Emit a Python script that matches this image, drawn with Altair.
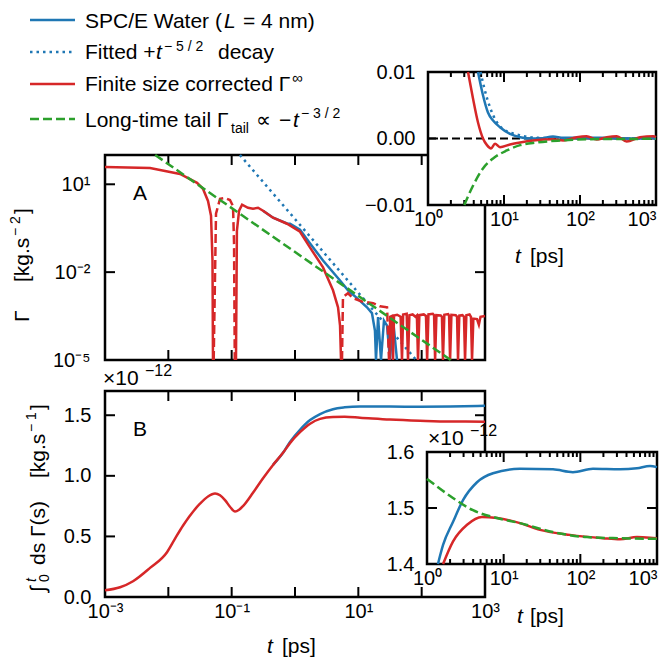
import math
import altair as alt
import pandas as pd

# ======================= DATA (t in ps) =======================
# Panel A : |Gamma(t)| [kg.s^-2], log-log
A_blue_t = [0.313, 0.45, 0.748, 0.834, 1.2, 1.73, 2.77, 5.14, 6.87, 9.53, 13.7, 16.4,
            18.3, 19.0, 20.5, 22.8, 25.4, 28.4, 31.6, 35.3, 40.8]
A_blue_v = [1.25, 0.72, 0.46, 0.45, 0.28, 0.095, 0.025, 5.2e-3, 2.4e-3, 1.3e-3, 6.3e-4, 4.0e-4,
            1.0e-4, 1e-5, 2.9e-4, 1e-5, 2.2e-4, 1.5e-4, 1e-5, 2.5e-4, 1e-5]
A_fit_t = [0.135, 82.0]
A_fit_v = [100.0, 1e-5]
A_tail_t = [0.0062, 287.0]
A_tail_v = [100.0, 1e-5]
# red, positive parts (solid)
A_red_pos = [
    ([0.001, 0.00514, 0.0153, 0.0284, 0.0352, 0.0423, 0.0472, 0.0498, 0.0507],
     [39, 36, 22.6, 11.2, 7.0, 2.7, 0.85, 0.025, 1e-5]),
    ([0.117, 0.121, 0.131, 0.146, 0.181, 0.217, 0.261, 0.313, 0.45, 0.748, 1.2, 1.73, 2.77,
      3.98, 4.78, 5.14, 5.33],
     [1e-5, 0.26, 1.26, 2.0, 1.58, 1.46, 1.58, 1.25, 0.72, 0.45, 0.24, 0.069, 0.0145,
      0.0024, 6.3e-4, 1.5e-4, 1e-5]),
    ([31.0, 31.8, 34.0, 35.3, 36.6, 41, 46.5, 48.9, 51, 58, 60.9, 64, 72, 80, 84, 87.6, 92,
      108, 117, 122, 128, 150, 157, 163, 171, 200, 209, 217, 228, 262, 271, 281, 295, 345,
      362, 375, 393, 440, 466, 484, 508, 570, 600, 624, 655, 748, 800, 850, 1000],
     [1e-5, 3.0e-4, 3.2e-4, 1e-5, 3.3e-4, 3.5e-4, 3.0e-4, 1e-5, 3.6e-4, 3.8e-4, 1e-5, 3.4e-4,
      3.6e-4, 3.0e-4, 3.3e-4, 1e-5, 3.4e-4, 3.6e-4, 3.2e-4, 1e-5, 3.6e-4, 3.8e-4, 3.4e-4,
      1e-5, 3.4e-4, 3.3e-4, 3.0e-4, 1e-5, 3.5e-4, 3.7e-4, 3.2e-4, 1e-5, 3.5e-4, 3.4e-4,
      3.0e-4, 1e-5, 3.3e-4, 3.4e-4, 3.0e-4, 1e-5, 3.4e-4, 3.6e-4, 3.0e-4, 1e-5, 2.6e-4,
      2.5e-4, 1.6e-4, 3.0e-4, 3.2e-4]),
]
# red, negative parts (dashed, absolute value)
A_red_neg = [
    ([0.052, 0.0566, 0.0655, 0.0785, 0.094, 0.105, 0.109, 0.112],
     [1e-5, 1.0, 3.2, 3.4, 2.9, 1.8, 0.1, 1e-5]),
    ([5.52, 5.72, 6.87, 8.24, 11.4, 17.1, 22.0, 28.4, 30.5],
     [1e-5, 1.4e-3, 1.9e-3, 1.3e-3, 1.0e-3, 8.7e-4, 6.8e-4, 6.3e-4, 1e-5]),
]

# Panel B : integral of Gamma [1e-12 kg.s^-1]
B_red_t = [0.001, 0.00173, 0.00277, 0.00514, 0.00953, 0.0127, 0.0171, 0.0316, 0.0423, 0.0546,
           0.0655, 0.0785, 0.094, 0.113, 0.131, 0.151, 0.217, 0.313, 0.45, 0.647, 0.834, 1.2,
           1.73, 2.49, 3.98, 6.1, 10.6, 31.6, 94, 281, 1000]
B_red_v = [0.055, 0.08, 0.13, 0.24, 0.37, 0.48, 0.59, 0.77, 0.83, 0.855, 0.84, 0.80, 0.745,
           0.705, 0.72, 0.75, 0.86, 0.98, 1.09, 1.19, 1.27, 1.36, 1.43, 1.47, 1.485, 1.487,
           1.48, 1.465, 1.455, 1.448, 1.447]
B_blue_t = [0.45, 0.647, 0.834, 1.2, 1.73, 2.49, 3.98, 6.1, 10.6, 31.6, 94, 281, 1000]
B_blue_v = [1.09, 1.19, 1.28, 1.38, 1.46, 1.51, 1.55, 1.565, 1.572, 1.572, 1.57, 1.572, 1.578]

# Inset A : Gamma(t), linear y
IA_red_t = [3.36, 3.91, 4.55, 5.29, 5.97, 6.75, 7.61, 8.85, 12.0, 16.3, 24.1, 44.1, 60.3,
            90.5, 122, 166, 225, 304, 411, 615, 921, 1000]
IA_red_v = [0.01, 0.006, 0.0024, 0.0, -0.001, -0.0015, -0.0008, -0.0013, -0.0009, -0.0006,
            -0.0003, -0.0001, -0.0003, 0.0002, 0.00035, -0.00015, 0.0002, 0.00035, -0.00045,
            0.0002, 0.00035, 0.0002]
IA_blue_t = [4.55, 5.29, 6.15, 7.18, 8.85, 12.0, 16.3, 22.0, 29.8, 44.1, 60.3, 90.5, 183,
             615, 1000]
IA_blue_v = [0.01, 0.0065, 0.0039, 0.0027, 0.0017, 0.0007, 0.0002, 0.0, 0.0, 0.0003, 0.0001,
             0.0001, 0.0001, 0.0, 0.0001]
IA_fit_t = [4.9, 6.0, 7.2, 9.5, 16.0, 28.0, 100.0, 1000.0]
IA_fit_v = [0.01, 0.006, 0.0035, 0.0015, 0.0005, 0.0001, 0.0, 0.0]
IA_tail_t = [3.0, 3.91, 5.29, 7.18, 10.9, 16.3, 27.0, 54.5, 123, 1000]
IA_tail_v = [-0.01, -0.0071, -0.0045, -0.003, -0.0018, -0.001, -0.0006, -0.0003, -0.0001,
             -0.00005]
IA_zero_t = [1.0, 1000.0]
IA_zero_v = [0.0, 0.0]

# Inset B : integral, zoom
IB_blue_t = [1.39, 1.62, 2.18, 2.95, 4.49, 7.26, 16.3, 44.0, 80.0, 146, 329, 548, 811, 1000]
IB_blue_v = [1.40, 1.434, 1.475, 1.514, 1.546, 1.562, 1.570, 1.569, 1.564, 1.570, 1.569,
             1.571, 1.575, 1.573]
IB_red_t = [1.62, 2.18, 3.33, 5.21, 8.18, 16.3, 29.8, 73.3, 198, 329, 548, 811, 1000]
IB_red_v = [1.40, 1.44, 1.47, 1.484, 1.482, 1.473, 1.461, 1.452, 1.446, 1.444, 1.448, 1.447,
            1.446]
IB_tail_t = [1.0, 2.18, 3.98, 8.18, 16.3, 44.0, 122, 329, 1000]
IB_tail_v = [1.552, 1.518, 1.496, 1.482, 1.473, 1.457, 1.448, 1.446, 1.445]

# axis domains and tick values
DOM_T = [1e-3, 1e3]
DOM_TI = [1.0, 1e3]
DOM_GA = [1e-5, 1e2]
DOM_GB = [0.0, 1.7]
DOM_GIA = [-0.01, 0.01]
DOM_GIB = [1.4, 1.6]
DECADES = [1e-3, 1e-2, 1e-1, 1.0, 10.0, 100.0, 1000.0]
DEC_I = [1.0, 10.0, 100.0, 1000.0]
MINOR_I = [m * d for d in (1, 10, 100) for m in range(2, 10)]
YT_A = [1e-5, 1e-2, 10.0]
YT_B = [0.0, 0.5, 1.0, 1.5]
YT_IA = [-0.01, 0.0, 0.01]
YT_IB = [1.4, 1.5, 1.6]

# ======================= STYLE / LAYOUT =======================
W, H, M = 654, 650, 8
FONT = "Liberation Sans"
BLUE, RED, GREEN = "#1f77b4", "#d62728", "#2ca02c"
LW = 2.5
DASH = [9, 4]
DOT = [2.5, 4]
FS = 21
MAJ, MIN = 10, 5


def P(v):
    return v - M


# frames in page pixels: left, top, right, bottom
FR_A = (105, 155, 485, 360)
FR_B = (105, 391, 485, 597)
FR_IA = (428, 72, 656, 205)
FR_IB = (427, 452, 657, 564)


def xscale(dom, fr):
    return alt.Scale(type="log", domain=dom, range=[P(fr[0]), P(fr[2])], nice=False)


def yscale(dom, fr, log=False):
    if log:
        return alt.Scale(type="log", domain=dom, range=[P(fr[3]), P(fr[1])], nice=False)
    return alt.Scale(type="linear", domain=dom, range=[P(fr[3]), P(fr[1])], nice=False, zero=False)


def inv_x(fr, dom, px):
    a, b = math.log10(dom[0]), math.log10(dom[1])
    return 10 ** (a + (px - fr[0]) / (fr[2] - fr[0]) * (b - a))


def inv_y(fr, dom, py, log):
    f = (fr[3] - py) / (fr[3] - fr[1])
    if log:
        a, b = math.log10(dom[0]), math.log10(dom[1])
        return 10 ** (a + f * (b - a))
    return dom[0] + f * (dom[1] - dom[0])


def sup_expr(mapping):
    e = "round(log(datum.value)/LN10)"
    s = "''"
    for k, lab in mapping.items():
        s = f"({e} == {k}) ? '{lab}' : " + s
    return s


def label_axis(orient, fr, values, z=0, expr=None, fmt=None, pad=4, flush_last=False):
    L, T, R, B = [P(c) for c in fr]
    off = (B - H) if orient == "bottom" else -L
    kw = dict(orient=orient, offset=off, values=values, ticks=False, domain=False, grid=False,
              labels=True, title=None, zindex=z, labelPadding=pad, labelFont=FONT,
              labelFontSize=20, labelColor="black", labelFlush=False, labelOverlap=False)
    if expr:
        kw["labelExpr"] = expr
    if fmt:
        kw["format"] = fmt
    if flush_last:
        kw["labelAlign"] = {"condition": {"test": f"datum.value >= {values[-1] * 0.999}",
                                          "value": "right"}, "value": "center"}
    return alt.Axis(**kw)


def tick_layer(fr, xs, ys, xdom, ydom, ylog, xvals, yvals, size):
    """inward ticks on all four sides, drawn as short segments through the scales"""
    L, T, R, B = fr
    rows, k = [], 0
    for t in (xvals or []):
        for p0, p1 in ((B, B - size), (T, T + size)):
            rows += [{"t": t, "v": inv_y(fr, ydom, p0, ylog), "k": k},
                     {"t": t, "v": inv_y(fr, ydom, p1, ylog), "k": k}]
            k += 1
    for v in (yvals or []):
        for p0, p1 in ((L, L + size), (R, R - size)):
            rows += [{"t": inv_x(fr, xdom, p0), "v": v, "k": k},
                     {"t": inv_x(fr, xdom, p1), "v": v, "k": k}]
            k += 1
    df = pd.DataFrame(rows)
    return alt.Chart(df).mark_line(color="black", strokeWidth=2).encode(
        x=alt.X("t:Q", scale=xs, axis=None),
        y=alt.Y("v:Q", scale=ys, axis=None),
        detail="k:N",
    )


def lines(segs, xs, ys, color, dash=None, width=LW, interp=None):
    rows = []
    for k, (ts, vs) in enumerate(segs):
        for t, v in zip(ts, vs):
            rows.append({"t": t, "v": v, "seg": k})
    df = pd.DataFrame(rows)
    mk = dict(color=color, strokeWidth=width)
    if dash:
        mk["strokeDash"] = dash
    if interp:
        mk["interpolate"] = interp
    return alt.Chart(df).mark_line(**mk).encode(
        x=alt.X("t:Q", scale=xs, axis=None),
        y=alt.Y("v:Q", scale=ys, axis=None),
        detail="seg:N",
    )


def frame(xs, ys, xdom, ydom, xax, yax, fill):
    df = pd.DataFrame({"x0": [xdom[0]], "x1": [xdom[1]], "y0": [ydom[0]], "y1": [ydom[1]]})
    if fill:
        m = alt.Chart(df).mark_rect(fill="white", stroke="black", strokeWidth=2.5)
    else:
        m = alt.Chart(df).mark_rect(fillOpacity=0, stroke="black", strokeWidth=2.5)
    return m.encode(x=alt.X("x0:Q", scale=xs, axis=xax), x2=alt.X2("x1"),
                    y=alt.Y("y0:Q", scale=ys, axis=yax), y2=alt.Y2("y1"))


ONE = pd.DataFrame({"k": [0]})


def txt(s, x, y, size=FS, italic=False, angle=None, align="left"):
    kw = dict(text=s, fontSize=size, align=align, baseline="alphabetic", color="black", font=FONT)
    if italic:
        kw["fontStyle"] = "italic"
    if angle is not None:
        kw["angle"] = angle
    return alt.Chart(ONE).mark_text(**kw).encode(x=alt.value(P(x)), y=alt.value(P(y)))


def sample(y, color, dash=None):
    mk = dict(color=color, strokeWidth=LW)
    if dash:
        mk["strokeDash"] = dash
    return alt.Chart(ONE).mark_rule(**mk).encode(
        x=alt.value(P(30)), x2=alt.value(P(75)), y=alt.value(P(y)))


layers = []

# ---------------- Panel A ----------------
sxA, syA = xscale(DOM_T, FR_A), yscale(DOM_GA, FR_A, log=True)
LAB_A = sup_expr({-5: "10⁻⁵", -2: "10⁻²", 1: "10¹"})
layers.append(frame(sxA, syA, DOM_T, DOM_GA, None,
                    label_axis("left", FR_A, YT_A, expr=LAB_A, pad=15), False))
layers.append(tick_layer(FR_A, sxA, syA, DOM_T, DOM_GA, True, DECADES, YT_A, MAJ))
layers.append(lines([(A_blue_t, A_blue_v)], sxA, syA, BLUE))
layers.append(lines([(A_fit_t, A_fit_v)], sxA, syA, BLUE, dash=DOT))
layers.append(lines(A_red_pos, sxA, syA, RED))
layers.append(lines(A_red_neg, sxA, syA, RED, dash=DASH))
layers.append(lines([(A_tail_t, A_tail_v)], sxA, syA, GREEN, dash=DASH))

# ---------------- Panel B ----------------
sxB, syB = xscale(DOM_T, FR_B), yscale(DOM_GB, FR_B)
LAB_T = sup_expr({-3: "10⁻³", -1: "10⁻¹", 1: "10¹", 3: "10³"})
layers.append(frame(sxB, syB, DOM_T, DOM_GB,
                    label_axis("bottom", FR_B, DECADES, expr=LAB_T, pad=4),
                    label_axis("left", FR_B, YT_B, fmt=".1f", pad=14), False))
layers.append(tick_layer(FR_B, sxB, syB, DOM_T, DOM_GB, False, DECADES, YT_B, MAJ))
layers.append(lines([(B_blue_t, B_blue_v)], sxB, syB, BLUE, interp="monotone"))
layers.append(lines([(B_red_t, B_red_v)], sxB, syB, RED, interp="monotone"))

# ---------------- Inset A ----------------
sxIA, syIA = xscale(DOM_TI, FR_IA), yscale(DOM_GIA, FR_IA)
LAB_I = sup_expr({0: "10⁰", 1: "10¹", 2: "10²", 3: "10³"})
layers.append(frame(sxIA, syIA, DOM_TI, DOM_GIA,
                    label_axis("bottom", FR_IA, DEC_I, z=1, expr=LAB_I, pad=4, flush_last=True),
                    label_axis("left", FR_IA, YT_IA, z=1, fmt=".2f", pad=13), True))
layers.append(tick_layer(FR_IA, sxIA, syIA, DOM_TI, DOM_GIA, False, DEC_I, YT_IA, MAJ))
layers.append(tick_layer(FR_IA, sxIA, syIA, DOM_TI, DOM_GIA, False, MINOR_I, None, MIN))
layers.append(lines([(IA_zero_t, IA_zero_v)], sxIA, syIA, "black", dash=[8, 4], width=2))
layers.append(lines([(IA_blue_t, IA_blue_v)], sxIA, syIA, BLUE, interp="monotone"))
layers.append(lines([(IA_fit_t, IA_fit_v)], sxIA, syIA, BLUE, dash=DOT, interp="monotone"))
layers.append(lines([(IA_red_t, IA_red_v)], sxIA, syIA, RED, interp="monotone"))
layers.append(lines([(IA_tail_t, IA_tail_v)], sxIA, syIA, GREEN, dash=DASH, interp="monotone"))

# ---------------- Inset B ----------------
sxIB, syIB = xscale(DOM_TI, FR_IB), yscale(DOM_GIB, FR_IB)
layers.append(frame(sxIB, syIB, DOM_TI, DOM_GIB,
                    label_axis("bottom", FR_IB, DEC_I, z=1, expr=LAB_I, pad=4, flush_last=True),
                    label_axis("left", FR_IB, YT_IB, z=1, fmt=".1f", pad=13), True))
layers.append(tick_layer(FR_IB, sxIB, syIB, DOM_TI, DOM_GIB, False, DEC_I, YT_IB, MAJ))
layers.append(tick_layer(FR_IB, sxIB, syIB, DOM_TI, DOM_GIB, False, MINOR_I, None, MIN))
layers.append(lines([(IB_blue_t, IB_blue_v)], sxIB, syIB, BLUE, interp="monotone"))
layers.append(lines([(IB_red_t, IB_red_v)], sxIB, syIB, RED, interp="monotone"))
layers.append(lines([(IB_tail_t, IB_tail_v)], sxIB, syIB, GREEN, dash=DASH, interp="monotone"))

# ---------------- texts ----------------
# legend
layers += [sample(20, BLUE), sample(52, BLUE, DOT), sample(84, RED), sample(119, GREEN, DASH)]
layers += [
    txt("SPC/E Water (", 85, 28), txt("L", 224, 28, italic=True), txt("= 4 nm)", 243, 28),
    txt("Fitted +", 85, 59), txt("t", 156, 59, italic=True), txt("− 5 / 2", 164, 51, size=14),
    txt("decay", 218, 59),
    txt("Finite size corrected Γ", 85, 91), txt("∞", 292, 83, size=15),
    txt("Long-time tail Γ", 85, 127), txt("tail", 231, 133, size=14), txt("∝", 256, 127),
    txt("−", 279, 127), txt("t", 293, 127, italic=True), txt("− 3 / 2", 301, 118, size=14),
]
# panel letters
layers += [txt("A", 133, 200), txt("B", 133, 436)]
# x titles
layers += [txt("t", 267, 653, italic=True), txt("[ps]", 282, 653),
           txt("t", 515, 263, italic=True), txt("[ps]", 530, 263),
           txt("t", 517, 623, italic=True), txt("[ps]", 530, 623)]
# offset texts
layers += [txt("×10", 103, 385), txt("−12", 145, 376, size=16),
           txt("×10", 428, 445), txt("−12", 470, 436, size=16)]
# y titles (rotated)
layers += [txt("Γ", 29, 322, angle=270), txt("[kg.s", 29, 282, angle=270),
           txt("− 2", 20, 236, size=14, angle=270), txt("]", 29, 214, angle=270)]
layers += [txt("∫", 45, 592, angle=270), txt("t", 36, 582, size=14, italic=True, angle=270),
           txt("0", 49, 582, size=14, angle=270), txt("ds Γ(s)", 45, 565, angle=270),
           txt("[kg.s", 45, 478, angle=270), txt("− 1", 36, 432, size=14, angle=270),
           txt("]", 45, 410, angle=270)]

chart = (
    alt.layer(*layers)
    .resolve_scale(x="independent", y="independent")
    .properties(width=W, height=H, padding=0, autosize=alt.AutoSizeParams(type="none"))
    .configure(font=FONT)
    .configure_view(stroke=None)
)

chart.save("out.html", embed_options={"renderer": "svg", "actions": False})
